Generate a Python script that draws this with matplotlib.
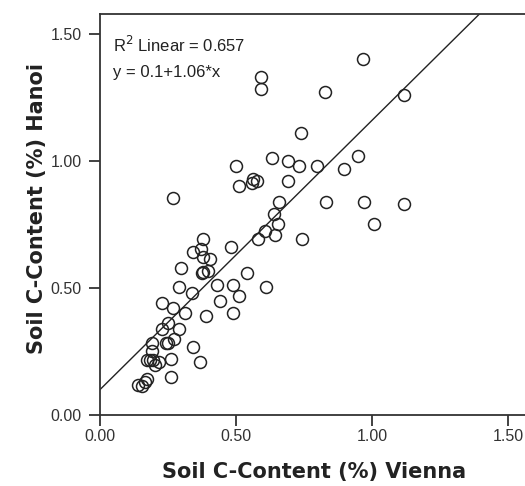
import matplotlib
matplotlib.use("Agg")
import matplotlib.pyplot as plt
import numpy as np

vienna = [0.968, 0.591, 0.591, 0.828, 1.119, 0.738, 0.950, 0.631, 0.690, 0.731,
          0.799, 0.500, 0.898, 0.561, 0.578, 0.560, 0.510, 0.690, 0.269, 0.658,
          0.830, 0.969, 1.119, 1.009, 0.638, 0.653, 0.608, 0.642, 0.580, 0.743,
          0.380, 0.341, 0.371, 0.480, 0.380, 0.404, 0.298, 0.380, 0.374, 0.398,
          0.539, 0.290, 0.337, 0.429, 0.490, 0.610, 0.512, 0.441, 0.229, 0.269,
          0.3125, 0.390, 0.490, 0.250, 0.228, 0.291, 0.271, 0.243, 0.250, 0.190,
          0.341, 0.190, 0.172, 0.182, 0.196, 0.217, 0.261, 0.369, 0.202, 0.261,
          0.172, 0.165, 0.140, 0.156]
hanoi = [1.400, 1.330, 1.282, 1.270, 1.260, 1.111, 1.020, 1.011, 1.001, 0.980,
         0.980, 0.980, 0.970, 0.928, 0.921, 0.912, 0.902, 0.922, 0.854, 0.840,
         0.840, 0.840, 0.831, 0.750, 0.793, 0.751, 0.724, 0.709, 0.691, 0.692,
         0.692, 0.642, 0.654, 0.660, 0.623, 0.614, 0.580, 0.564, 0.558, 0.568,
         0.560, 0.503, 0.481, 0.510, 0.510, 0.502, 0.470, 0.450, 0.441, 0.420,
         0.400, 0.390, 0.400, 0.362, 0.337, 0.339, 0.298, 0.285, 0.282, 0.283,
         0.269, 0.251, 0.217, 0.215, 0.217, 0.209, 0.219, 0.210, 0.197, 0.148,
         0.142, 0.130, 0.118, 0.116]

fit_intercept = 0.1
fit_slope = 1.06
r2_text = "R$^2$ Linear = 0.657"
eq_text = "y = 0.1+1.06*x"
ticks = [0.0, 0.5, 1.0, 1.5]
tick_labels = ["0.00", "0.50", "1.00", "1.50"]
xlabel = "Soil C-Content (%) Vienna"
ylabel = "Soil C-Content (%) Hanoi"

plt.rcParams['font.family'] = ['Liberation Sans', 'DejaVu Sans']

fig = plt.figure(figsize=(5.25, 4.86), dpi=100)
ax = fig.add_axes([100/525, 71/486, 425/525, 401/486])
xmax = 425/272
ymax = 401/254
ax.set_xlim(0, xmax)
ax.set_ylim(0, ymax)

xl = np.array([0, xmax])
ax.plot(xl, fit_intercept + fit_slope*xl, color='#222222', lw=1.0, zorder=2)
ax.plot(vienna, hanoi, linestyle='none', marker='o', markersize=8.6,
        markerfacecolor='none', markeredgecolor='#222222', markeredgewidth=1.1, zorder=3)

ax.spines['right'].set_visible(False)
for s in ['left', 'bottom', 'top']:
    ax.spines[s].set_color('#333333')
    ax.spines[s].set_linewidth(1.3)

ax.set_xticks(ticks)
ax.set_xticklabels(tick_labels)
ax.set_yticks(ticks)
ax.set_yticklabels(tick_labels)
ax.tick_params(axis='both', direction='out', length=8, width=1.3, color='#333333',
               labelsize=11.5, labelcolor='#333333')
ax.tick_params(axis='x', pad=2)
ax.tick_params(axis='y', pad=5)

fig.text(314/525, 1 - 472/486, xlabel, fontsize=15, fontweight='bold', family='DejaVu Sans',
         color='#222222', ha='center', va='center')
fig.text(37/525, 1 - 209/486, ylabel, fontsize=15, fontweight='bold', family='DejaVu Sans',
         color='#222222', ha='center', va='center', rotation=90)

ax.text(0.048, 1.457, r2_text, fontsize=12, color='#222222', va='center', ha='left')
ax.text(0.048, 1.350, eq_text, fontsize=12, color='#222222', va='center', ha='left')

fig.savefig("out.png", dpi=100, facecolor='white')
